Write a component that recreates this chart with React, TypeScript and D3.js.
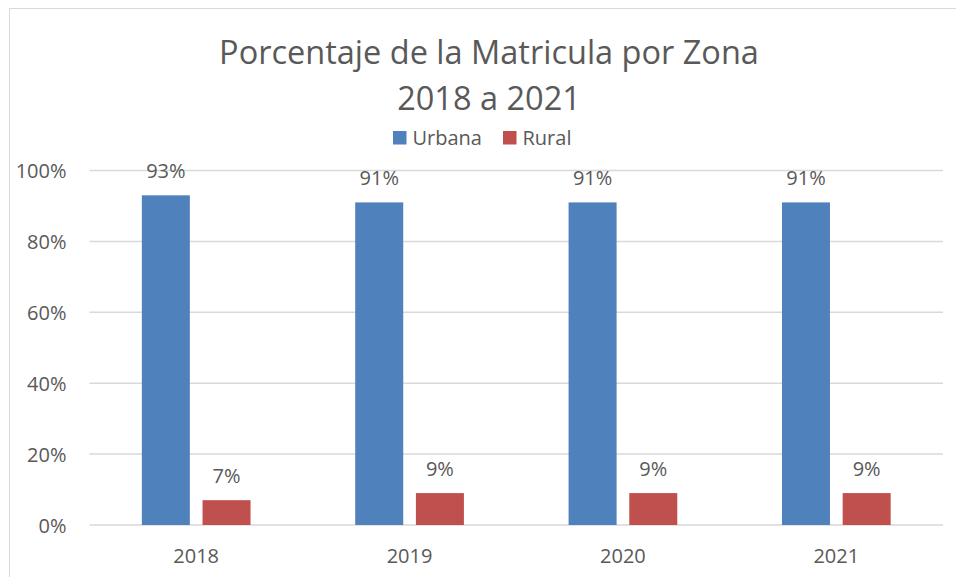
import React, { useRef, useEffect } from "react";
import * as d3 from "d3";

const years = ["2018", "2019", "2020", "2021"];
const series = ["Urbana", "Rural"];
const urbana = [0.93, 0.91, 0.91, 0.91];
const rural = [0.07, 0.09, 0.09, 0.09];
const yTicks = [0, 0.2, 0.4, 0.6, 0.8, 1];
const titleLines = ["Porcentaje de la Matricula por Zona", "2018 a 2021"];

const colors: Record<string, string> = { Urbana: "#4F81BD", Rural: "#C0504D" };

const App: React.FC = () => {
  const svgRef = useRef<SVGSVGElement | null>(null);

  useEffect(() => {
    document.body.style.margin = "0";
    const width = 956;
    const height = 577;
    const font = "'Open Sans', sans-serif";
    const textColor = "#595959";

    const svg = d3.select(svgRef.current).attr("width", width).attr("height", height);
    svg.selectAll("*").remove();

    // chart frame (cropped on the right/bottom)
    svg
      .append("rect")
      .attr("x", 9.5)
      .attr("y", 8.5)
      .attr("width", width + 20)
      .attr("height", height + 20)
      .attr("fill", "#fff")
      .attr("stroke", "#D9D9D9");

    const left = 89.5;
    const right = 943;
    const top = 170.5;
    const bottom = 525;

    const x0 = d3.scaleBand<string>().domain(years).range([left, right]).padding(0);
    const groupW = 108.7;
    const x1 = d3.scaleBand<string>().domain(series).range([0, groupW]).paddingInner(0.209);
    const y = d3.scaleLinear().domain([0, 1]).range([bottom, top]);

    // gridlines
    svg
      .append("g")
      .selectAll("line")
      .data(yTicks)
      .enter()
      .append("line")
      .attr("x1", left)
      .attr("x2", right)
      .attr("y1", (d) => y(d))
      .attr("y2", (d) => y(d))
      .attr("stroke", "#D9D9D9")
      .attr("stroke-width", 1.5);

    // y labels
    svg
      .append("g")
      .selectAll("text")
      .data(yTicks)
      .enter()
      .append("text")
      .attr("x", 66.5)
      .attr("y", (d) => y(d) + 7.5)
      .attr("text-anchor", "end")
      .style("font-family", font)
      .style("font-size", "20px")
      .style("fill", textColor)
      .text((d) => d3.format(".0%")(d));

    const rows = years.map((yr, i) => ({ year: yr, values: [urbana[i], rural[i]] }));

    const groups = svg
      .append("g")
      .selectAll("g")
      .data(rows)
      .enter()
      .append("g")
      .attr("transform", (d) => `translate(${x0(d.year)! + x0.bandwidth() / 2 - groupW / 2},0)`);

    const bars = groups
      .selectAll("g")
      .data((d) => series.map((s, j) => ({ key: s, value: d.values[j] })))
      .enter()
      .append("g");

    bars
      .append("rect")
      .attr("x", (d) => x1(d.key)!)
      .attr("width", x1.bandwidth())
      .attr("y", (d) => y(d.value))
      .attr("height", (d) => bottom - y(d.value))
      .attr("fill", (d) => colors[d.key]);

    bars
      .append("text")
      .attr("x", (d) => x1(d.key)! + x1.bandwidth() / 2)
      .attr("y", (d) => y(d.value) - 17.5)
      .attr("text-anchor", "middle")
      .style("font-family", font)
      .style("font-size", "20px")
      .style("fill", textColor)
      .text((d) => d3.format(".0%")(d.value));

    // x labels
    svg
      .append("g")
      .selectAll("text")
      .data(years)
      .enter()
      .append("text")
      .attr("x", (d) => x0(d)! + x0.bandwidth() / 2)
      .attr("y", 563)
      .attr("text-anchor", "middle")
      .style("font-family", font)
      .style("font-size", "20px")
      .style("fill", textColor)
      .text((d) => d);

    // title
    svg
      .append("g")
      .selectAll("text")
      .data(titleLines)
      .enter()
      .append("text")
      .attr("x", 489)
      .attr("y", (d, i) => 63.5 + i * 46)
      .attr("text-anchor", "middle")
      .style("font-family", font)
      .style("font-size", "32.5px")
      .style("fill", textColor)
      .text((d) => d);

    // legend
    const legendX = [393, 503];
    const legend = svg
      .append("g")
      .selectAll("g")
      .data(series)
      .enter()
      .append("g")
      .attr("transform", (d, i) => `translate(${legendX[i]},131)`);

    legend
      .append("rect")
      .attr("width", 13.5)
      .attr("height", 13.5)
      .attr("fill", (d) => colors[d]);

    legend
      .append("text")
      .attr("x", 19.5)
      .attr("y", 13.5)
      .style("font-family", font)
      .style("font-size", "20px")
      .style("fill", textColor)
      .text((d) => d);
  }, []);

  return <svg ref={svgRef}></svg>;
};

export default App;
